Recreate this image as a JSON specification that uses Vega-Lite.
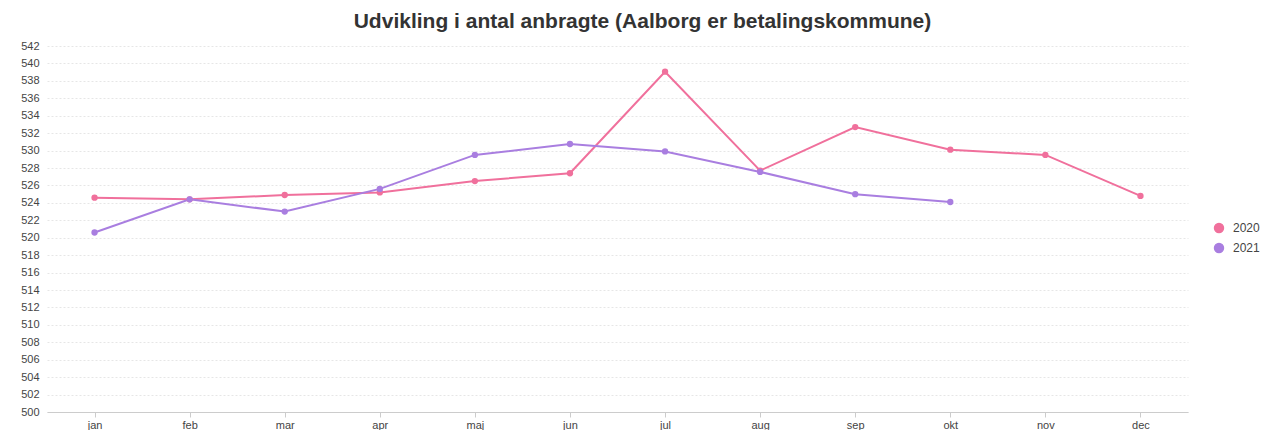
{
  "$schema": "https://vega.github.io/schema/vega-lite/v6.json",
  "autosize": {"type": "none"},
  "width": 1141,
  "height": 366,
  "padding": {"left": 47, "top": 46, "right": 77, "bottom": 18},
  "background": "white",
  "title": {
    "text": "Udvikling i antal anbragte (Aalborg er betalingskommune)",
    "font": "Liberation Sans",
    "fontSize": 21,
    "fontWeight": "bold",
    "color": "#333333",
    "anchor": "middle",
    "dx": 25,
    "offset": 8
  },
  "data": {
    "values": [
      {"month": "jan", "year": "2020", "value": 524.6},
      {"month": "feb", "year": "2020", "value": 524.4},
      {"month": "mar", "year": "2020", "value": 524.9},
      {"month": "apr", "year": "2020", "value": 525.2},
      {"month": "maj", "year": "2020", "value": 526.5},
      {"month": "jun", "year": "2020", "value": 527.4},
      {"month": "jul", "year": "2020", "value": 539.05},
      {"month": "aug", "year": "2020", "value": 527.7},
      {"month": "sep", "year": "2020", "value": 532.7},
      {"month": "okt", "year": "2020", "value": 530.1},
      {"month": "nov", "year": "2020", "value": 529.5},
      {"month": "dec", "year": "2020", "value": 524.8},
      {"month": "jan", "year": "2021", "value": 520.6},
      {"month": "feb", "year": "2021", "value": 524.4},
      {"month": "mar", "year": "2021", "value": 523.0},
      {"month": "apr", "year": "2021", "value": 525.6},
      {"month": "maj", "year": "2021", "value": 529.5},
      {"month": "jun", "year": "2021", "value": 530.75},
      {"month": "jul", "year": "2021", "value": 529.9},
      {"month": "aug", "year": "2021", "value": 527.55},
      {"month": "sep", "year": "2021", "value": 525.0},
      {"month": "okt", "year": "2021", "value": 524.1}
    ]
  },
  "encoding": {
    "x": {
      "field": "month",
      "type": "ordinal",
      "sort": ["jan", "feb", "mar", "apr", "maj", "jun", "jul", "aug", "sep", "okt", "nov", "dec"],
      "scale": {"type": "point", "padding": 0.5},
      "axis": {
        "title": null,
        "labelAngle": 0,
        "labelFont": "Liberation Sans",
        "labelFontSize": 11,
        "labelColor": "#444444",
        "labelPadding": 2,
        "domainColor": "#cccccc",
        "tickColor": "#cccccc",
        "tickSize": 5,
        "grid": false
      }
    },
    "y": {
      "field": "value",
      "type": "quantitative",
      "scale": {"domain": [500, 542], "nice": false, "zero": false},
      "axis": {
        "title": null,
        "values": [500, 502, 504, 506, 508, 510, 512, 514, 516, 518, 520, 522, 524, 526, 528, 530, 532, 534, 536, 538, 540, 542],
        "labelFont": "Liberation Sans",
        "labelFontSize": 11,
        "labelColor": "#444444",
        "labelPadding": 8,
        "ticks": false,
        "domain": false,
        "grid": true,
        "gridColor": "#e6e6e6",
        "gridDash": [2, 2]
      }
    },
    "color": {
      "field": "year",
      "type": "nominal",
      "scale": {"domain": ["2020", "2021"], "range": ["#f0709c", "#a97ee0"]},
      "legend": {
        "title": null,
        "orient": "none",
        "legendX": 1166,
        "legendY": 176,
        "symbolType": "circle",
        "symbolSize": 80,
        "symbolOpacity": 1,
        "labelFont": "Liberation Sans",
        "labelFontSize": 12,
        "labelColor": "#444444",
        "labelOffset": 8,
        "rowPadding": 4
      }
    }
  },
  "layer": [
    {"mark": {"type": "line", "strokeWidth": 2}},
    {"mark": {"type": "point", "filled": true, "opacity": 1, "size": 40}}
  ],
  "config": {"view": {"stroke": null}}
}
